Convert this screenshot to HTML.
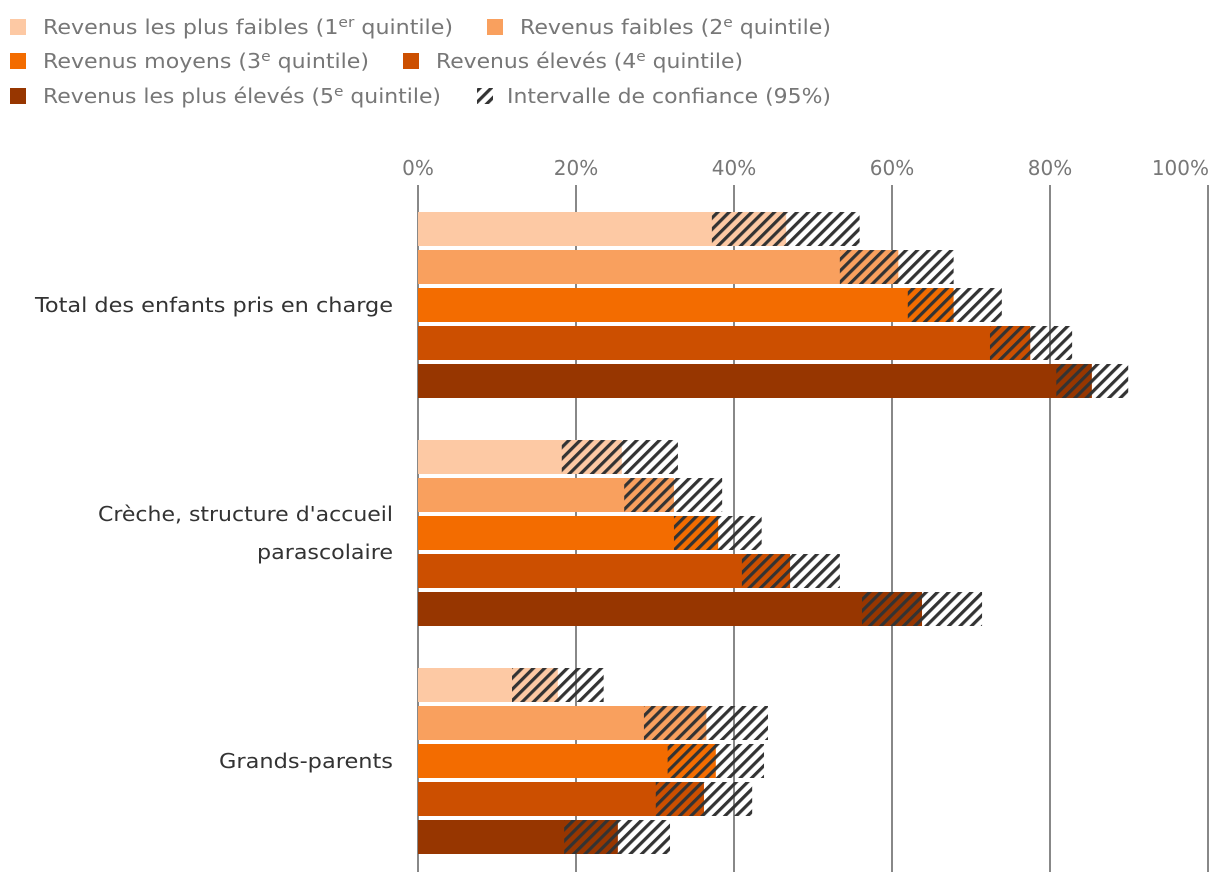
<!DOCTYPE html>
<html><head><meta charset="utf-8"><style>
body{margin:0;background:#fff;font-family:"DejaVu Sans",sans-serif}
svg text{font-family:"DejaVu Sans","Liberation Sans",sans-serif}
</style></head><body>
<svg width="1220" height="886" xmlns="http://www.w3.org/2000/svg">
<defs>
<pattern id="hatch" width="8" height="8" patternUnits="userSpaceOnUse" patternTransform="rotate(45)">
<rect x="0" y="0" width="3.2" height="8" fill="#333"/>
</pattern>
</defs>
<g id="legend"></g>
<g id="grid"></g>
<g id="bars"></g>
<g id="labels"></g>
</svg>
<script>
const categories=[["Total des enfants pris en charge"],["Crèche, structure d'accueil","parascolaire"],["Grands-parents"]];
const seriesNames=["Revenus les plus faibles (1er quintile)","Revenus faibles (2e quintile)","Revenus moyens (3e quintile)","Revenus élevés (4e quintile)","Revenus les plus élevés (5e quintile)"];
const colors=["#FDC9A4","#F9A05E","#F36C00","#CC4F00","#973600"];
const estimates=[[46.6,60.8,67.8,77.5,85.3],[25.8,32.4,38.0,47.1,63.8],[17.7,36.5,37.7,36.2,25.3]];
const ciLow=[[37.2,53.4,62.0,72.4,80.8],[18.2,26.1,32.4,41.0,56.2],[11.9,28.6,31.6,30.1,18.5]];
const ciHigh=[[55.9,67.8,73.9,82.8,89.9],[32.9,38.5,43.5,53.4,71.4],[23.5,44.3,43.8,42.3,31.9]];
const ticks=[0,20,40,60,80,100];
const NS="http://www.w3.org/2000/svg";
const x=v=>418+v*7.9;
const barY=(g,s)=>212+g*228+s*38;
const labelWidths={"Total des enfants pris en charge":358,"Crèche, structure d'accueil":295,"parascolaire":136,"Grands-parents":174};
function mk(tag,attrs,parent){const e=document.createElementNS(NS,tag);for(const k in attrs)e.setAttribute(k,attrs[k]);parent.appendChild(e);return e;}
const grid=document.getElementById('grid'),bars=document.getElementById('bars'),labels=document.getElementById('labels'),legend=document.getElementById('legend');
ticks.forEach((t,i)=>{
 const l=mk('line',{x1:x(t),x2:x(t),y1:185,y2:872,stroke:'#888','stroke-width':2},grid);
 
 
 const last=i===ticks.length-1;
 const tx=mk('text',{x:last?x(t)+1:x(t),y:175,'text-anchor':last?'end':'middle','font-size':20,fill:'#777'},grid);
 tx.textContent=t+'%';
 
 
});
estimates.forEach((row,g)=>{
 row.forEach((v,s)=>{
  const y=barY(g,s);
  const r=mk('rect',{x:x(0),y:y,width:x(v)-x(0),height:34,fill:colors[s]},bars);
  
  
  const h=mk('rect',{x:x(ciLow[g][s]),y:y,width:x(ciHigh[g][s])-x(ciLow[g][s]),height:34,fill:'url(#hatch)'},bars);
  
  
 });
 const lines=categories[g];
 const cy=barY(g,2)+17;
 lines.forEach((ln,i)=>{
  const w=labelWidths[ln];
  const t=mk('text',{x:393-w,y:cy+7+(i-(lines.length-1)/2)*38,'font-size':20.5,fill:'#333',textLength:w,lengthAdjust:'spacingAndGlyphs'},labels);
  t.textContent=ln;
  
  
 });
});
const legendPos=[[10,43,34,410],[487,520,34,311],[10,43,68,326],[403,436,68,307],[10,43,103,398]];
seriesNames.forEach((n,i)=>{
 const [sx,tx,ty,tw]=legendPos[i];
 const sq=mk('rect',{x:sx,y:ty-15,width:16,height:16,fill:colors[i]},legend);
 
 
 const t=mk('text',{x:tx,y:ty,'font-size':20,fill:'#777',textLength:tw,lengthAdjust:'spacingAndGlyphs'},legend);
 const m=n.match(/^(.*\(\d)(er|e)( .*)$/);
 const a=document.createElementNS(NS,'tspan');a.textContent=m[1];t.appendChild(a);
 const b=document.createElementNS(NS,'tspan');b.setAttribute('dy','-7');b.setAttribute('font-size','14');b.textContent=m[2];t.appendChild(b);
 const c=document.createElementNS(NS,'tspan');c.setAttribute('dy','7');c.textContent=m[3];t.appendChild(c);
 
 
});
const hs=mk('rect',{x:477,y:88,width:16,height:16,fill:'url(#hatch)'},legend);


const ht=mk('text',{x:507,y:103,'font-size':20,fill:'#777',textLength:324,lengthAdjust:'spacingAndGlyphs'},legend);
ht.textContent='Intervalle de confiance (95%)';


</script>
</body></html>
